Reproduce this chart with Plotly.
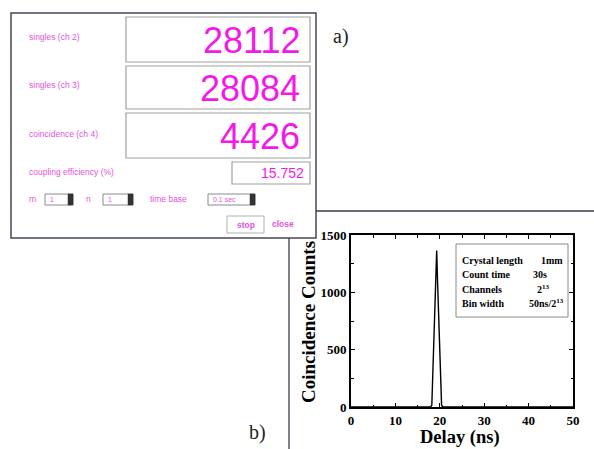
import plotly.graph_objects as go

W, H = 594, 449

# ---- data: panel b) coincidence histogram ----
delay_ns = [0, 17.9, 18.2, 18.5, 18.8, 19.1, 19.3, 19.5, 19.8, 20.1, 20.4, 20.7, 50]
counts = [0, 0, 15, 370, 740, 1110, 1365, 1090, 680, 270, 15, 0, 0]

x_ticks = [0, 10, 20, 30, 40, 50]
y_ticks = [0, 500, 1000, 1500]

legend_keys = ["Crystal length", "Count time", "Channels", "Bin width"]
legend_vals = ["1mm", "30s", "2<sup>13</sup>", "50ns/2<sup>13</sup>"]

# ---- data: panel a) counter GUI ----
gui_labels = ["singles (ch 2)", "singles (ch 3)", "coincidence (ch 4)"]
gui_values = ["28112", "28084", "4426"]
eff_label = "coupling efficiency (%)"
eff_value = "15.752"
spin_labels = ["m", "n", "time base"]
spin_values = ["1", "1", "0.1 sec"]
buttons = ["stop", "close"]

MAG = "#f21ae6"
MAG_L = "#e452dc"
SERIF = "Liberation Serif, Times New Roman"


def X(px):
    return px / W


def Y(py):
    return 1 - py / H


fig = go.Figure()
fig.add_trace(go.Scatter(x=delay_ns, y=counts, mode="lines",
                         line=dict(color="black", width=1.4), showlegend=False))

shapes = []
ann = []


def rect(x0, y0, x1, y1, line="#9a9a9a", lw=1, fill="white"):
    shapes.append(dict(type="rect", xref="paper", yref="paper",
                       x0=X(x0), x1=X(x1), y0=Y(y1), y1=Y(y0),
                       line=dict(color=line, width=lw), fillcolor=fill, layer="below"))


def line(x0, y0, x1, y1, color="#3d3a4c", lw=1.3):
    shapes.append(dict(type="line", xref="paper", yref="paper",
                       x0=X(x0), x1=X(x1), y0=Y(y0), y1=Y(y1),
                       line=dict(color=color, width=lw)))


def text(s, x, y, size, color, xanchor="left", family="Arial, Liberation Sans", bold=False,
         angle=0):
    if bold:
        s = "<b>" + s + "</b>"
    ann.append(dict(text=s, x=X(x), y=Y(y), xref="paper", yref="paper",
                    xanchor=xanchor, yanchor="middle", showarrow=False, textangle=angle,
                    font=dict(size=size, color=color, family=family)))


# frame lines of the composite
line(316, 211, 594, 211)
line(289, 238, 289, 449)

# panel a) outer window
rect(11, 13, 316, 238, line="#4a4658", lw=1.5, fill="white")

# big value boxes
box_rows = [(17, 62), (66, 109), (113, 158)]
for (y0, y1), lab, val in zip(box_rows, gui_labels, gui_values):
    rect(126, y0, 310, y1, line="#a0a0a0", lw=1.2)
    text(lab, 27, (y0 + y1) / 2 - 2, 8.5, MAG_L)
    text(val, 302, (y0 + y1) / 2 + 1, 36, MAG, xanchor="right")

# coupling efficiency
rect(232, 162, 310, 184, line="#a0a0a0", lw=1.2)
text(eff_label, 27, 172, 8.5, MAG_L)
text(eff_value, 306, 173, 14, MAG, xanchor="right")

# spin boxes row
spin_geo = [(27, 45, 73), (84, 103, 133), (148, 208, 255)]
for (lx, b0, b1), lab, val in zip(spin_geo, spin_labels, spin_values):
    text(lab, lx, 199, 8.5, MAG_L)
    rect(b0, 194, b1, 205, line="#8a8a8a", lw=1)
    rect(b1 - 5, 194, b1, 205, line="#333333", lw=0.5, fill="#333333")
    text(val, b0 + 3, 199.5, 7, MAG_L)

# buttons
rect(227, 216, 264, 233, line="#b0b0b0", lw=1)
text(buttons[0], 245.5, 224.5, 8.5, MAG_L, xanchor="center", bold=True)
text(buttons[1], 283, 224, 8.5, MAG_L, xanchor="center", bold=True)

# panel labels
text("a)", 331, 37, 20, "#222222", family=SERIF)
text("b)", 247, 432, 20, "#222222", family=SERIF)

# legend box in panel b)
rect(456, 244, 568, 317, line="#8a8a8a", lw=1, fill="white")
leg_y = [260, 274, 289, 303]
val_x = [539, 531, 535, 527]
for yy, k, v, vx in zip(leg_y, legend_keys, legend_vals, val_x):
    text(k, 460, yy, 10, "black", family=SERIF, bold=True)
    text(v, vx, yy, 10, "black", family=SERIF, bold=True)

# axis titles
text("Delay (ns)", 460, 437, 18.5, "black", xanchor="center", family=SERIF, bold=True)
text("Coincidence Counts", 308, 322, 19, "black", xanchor="center", family=SERIF, bold=True,
     angle=-90)

axis_common = dict(
    ticks="inside", ticklen=4, tickwidth=1.3, tickcolor="black",
    showline=True, linecolor="black", linewidth=2, mirror="allticks",
    showgrid=False, zeroline=False, automargin=False,
    tickfont=dict(size=13, weight="bold", family=SERIF),
)

fig.update_layout(
    width=W, height=H,
    margin=dict(l=0, r=0, t=0, b=0),
    paper_bgcolor="white", plot_bgcolor="rgba(0,0,0,0)",
    shapes=shapes, annotations=ann,
    font=dict(family=SERIF, color="black"),
    xaxis=dict(domain=[X(351), X(573)], range=[0, 50], tickvals=x_ticks,
               minor=dict(dtick=5, ticks="inside", ticklen=2.5, tickcolor="black", tickwidth=1),
               **axis_common),
    yaxis=dict(domain=[Y(407), Y(235)], range=[0, 1500], tickvals=y_ticks,
               minor=dict(dtick=250, ticks="inside", ticklen=2.5, tickcolor="black", tickwidth=1),
               **axis_common),
)

post = (
    "var d=document;"
    "d.documentElement.style.margin='0';d.documentElement.style.padding='0';"
    "d.documentElement.style.overflow='hidden';"
    "d.body.style.margin='0';d.body.style.padding='0';d.body.style.overflow='hidden';"
)

fig.write_html("out.html", config={"displayModeBar": False}, post_script=post)
